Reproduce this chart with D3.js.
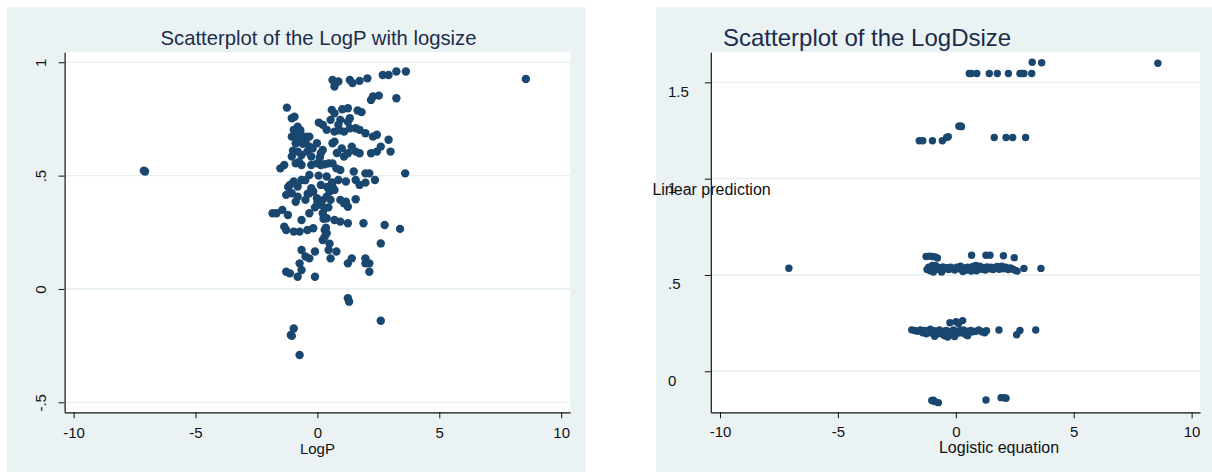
<!DOCTYPE html>
<html>
<head>
<meta charset="utf-8">
<script src="https://cdn.jsdelivr.net/npm/d3@7"></script>
<style>
  html, body { margin: 0; padding: 0; background: #ffffff; }
  svg { display: block; }
  text { font-family: "Liberation Sans", Arial, sans-serif; }
</style>
</head>
<body>
<svg id="chart" width="1212" height="472"></svg>
<script>
// ---- data ---------------------------------------------------------------

// Panel 1: LogP (x) against logsize (y)
const logPvsLogsize = [
  [0.62,0.922],[0.86,0.915],[0.70,0.893],[1.33,0.922],[1.44,0.908],[1.73,0.918],[2.05,0.929],
  [2.68,0.944],[2.92,0.944],[3.24,0.959],[3.63,0.959],[8.55,0.926],
  [2.20,0.834],[2.28,0.849],[2.52,0.853],[3.24,0.841],
  [-1.25,0.800],[0.59,0.790],[0.70,0.775],[1.02,0.793],[1.25,0.797],[1.65,0.787],[1.81,0.780],
  [-1.05,0.753],[-0.94,0.760],[0.06,0.734],[0.22,0.724],[0.54,0.746],[0.94,0.746],[1.33,0.753],[1.25,0.738],
  [-0.81,0.716],[-0.97,0.702],[-0.73,0.687],[-1.05,0.672],[-0.89,0.680],[-0.49,0.672],[-0.33,0.672],
  [0.38,0.702],[0.70,0.694],[0.86,0.724],[1.09,0.694],[1.33,0.709],[1.57,0.709],[1.73,0.702],
  [1.97,0.687],[2.28,0.672],[2.44,0.680],[2.92,0.658],
  [-0.89,0.643],[-0.49,0.650],[-0.33,0.628],[-0.02,0.643],[0.62,0.643],[0.70,0.650],[1.41,0.628],[2.60,0.628],
  [-1.05,0.584],[-0.81,0.606],[-0.65,0.591],[-0.41,0.606],[-0.25,0.584],[0.14,0.599],[0.22,0.613],
  [1.09,0.584],[1.25,0.599],[1.57,0.606],[1.73,0.599],[2.20,0.599],[2.44,0.606],[3.00,0.606],
  [-1.52,0.532],[-1.36,0.547],[-0.89,0.554],[-0.65,0.547],[-0.25,0.547],[-0.02,0.554],[0.14,0.547],
  [0.46,0.554],[0.62,0.554],[0.78,0.532],[0.94,0.525],[1.49,0.518],[1.97,0.510],[2.13,0.510],
  [3.60,0.510],[-7.07,0.518],[-7.12,0.522],
  [-0.97,0.474],[-0.65,0.481],[-0.33,0.503],[0.38,0.496],[0.86,0.481],[1.17,0.474],[1.57,0.481],
  [1.97,0.469],[2.36,0.481],
  [-1.13,0.459],[-0.81,0.452],[-0.25,0.444],[0.14,0.459],[0.62,0.452],[0.70,0.437],[1.73,0.459],
  [-1.28,0.415],[-1.05,0.422],[-0.81,0.407],[-0.33,0.422],[-0.17,0.430],[-0.02,0.400],[0.38,0.407],
  [0.54,0.393],[0.94,0.393],[1.17,0.385],[1.57,0.396],
  [-0.89,0.385],[-0.49,0.393],[0.14,0.371],[0.30,0.356],[1.09,0.378],[1.25,0.363],
  [-1.84,0.334],[-1.68,0.334],[-1.44,0.349],[-1.21,0.326],[-0.33,0.334],[0.22,0.334],[0.38,0.312],
  [0.70,0.304],[0.94,0.297],[1.25,0.290],[1.89,0.290],[2.76,0.282],[3.39,0.265],
  [-0.65,0.304],[-1.36,0.275],[-1.28,0.260],[-0.97,0.253],[-0.73,0.253],[-0.41,0.260],[-0.17,0.268],
  [0.30,0.260],[0.38,0.246],
  [0.22,0.216],[-0.65,0.172],[-0.10,0.165],[0.46,0.172],[0.78,0.165],[2.60,0.201],
  [-0.49,0.143],[-0.33,0.135],[0.54,0.135],[1.41,0.135],[1.97,0.135],
  [-0.73,0.113],[1.25,0.113],[1.97,0.113],[2.13,0.113],
  [-1.28,0.076],[-1.13,0.069],[-0.65,0.084],[-0.81,0.054],[-0.10,0.054],[2.13,0.076],
  [1.25,-0.041],[1.30,-0.056],[2.60,-0.140],[-0.97,-0.174],[-1.09,-0.203],[-1.05,-0.207],[-0.73,-0.291],
  [-0.80,0.660],[-0.60,0.640],[-0.20,0.620],[0.10,0.580],[0.30,0.550],[0.50,0.430],[0.40,0.450],
  [0.20,0.390],[0.00,0.380],[-0.10,0.360],[0.25,0.310],[-0.50,0.480],[-1.20,0.450],[0.80,0.600],
  [1.00,0.620],[0.90,0.700],[-0.70,0.700],[0.35,0.270],[0.30,0.230],[0.50,0.200],
  [-1.00,0.610],[-0.75,0.560],[0.05,0.500],[0.45,0.360],[-0.40,0.420],[0.60,0.470]
];

// Panel 2: logistic equation (x) against linear prediction (y)
const logisticVsPrediction = [
  [3.24,1.604],[3.64,1.602],[8.57,1.599],
  [0.57,1.546],[0.66,1.546],[0.89,1.546],[1.42,1.546],[1.76,1.546],[2.23,1.546],
  [2.72,1.546],[2.80,1.546],[2.89,1.546],[3.22,1.546],
  [-1.55,1.197],[-1.40,1.197],[-0.99,1.197],[-0.57,1.197],[-0.39,1.214],[-0.32,1.218],
  [0.13,1.272],[0.20,1.273],[0.24,1.270],[1.63,1.214],[2.13,1.214],[2.41,1.214],[2.96,1.214],
  [-1.26,0.596],[-1.12,0.598],[-1.00,0.596],[-0.88,0.594],[-0.78,0.588],[0.67,0.602],
  [1.28,0.602],[1.45,0.602],[2.02,0.600],[2.48,0.590],
  [-1.22,0.528],[-1.15,0.540],[-1.08,0.522],[-1.02,0.545],[-0.95,0.515],[-0.92,0.535],
  [-0.85,0.548],[-0.78,0.530],[-0.70,0.538],[-0.62,0.526],[-0.55,0.542],[-0.46,0.532],
  [-0.38,0.538],[-0.30,0.528],[-0.22,0.540],[-0.12,0.534],[-0.05,0.526],[0.04,0.540],
  [0.12,0.532],[0.20,0.545],[0.28,0.528],[0.35,0.536],[0.42,0.524],[0.50,0.540],
  [0.58,0.532],[0.65,0.520],[0.72,0.544],[0.80,0.530],[0.88,0.522],[0.95,0.538],
  [1.02,0.546],[1.10,0.530],[1.18,0.538],[1.25,0.526],[1.33,0.542],[1.42,0.532],
  [1.50,0.540],[1.58,0.528],[1.66,0.536],[1.75,0.544],[1.84,0.530],[1.92,0.538],
  [2.02,0.532],[2.12,0.540],[2.22,0.528],[2.32,0.536],[2.42,0.530],[2.52,0.524],
  [2.60,0.520],[2.89,0.534],[3.61,0.534],[-7.08,0.535],
  [-0.98,0.550],[0.30,0.518],[0.85,0.550],[-0.60,0.515],[1.95,0.546],
  [-1.87,0.215],[-1.75,0.212],[-1.62,0.208],[-1.50,0.215],[-1.40,0.200],[-1.32,0.212],
  [-1.25,0.195],[-1.15,0.208],[-1.08,0.218],[-1.00,0.198],[-0.92,0.210],[-0.85,0.190],
  [-0.78,0.205],[-0.70,0.215],[-0.62,0.195],[-0.55,0.208],[-0.48,0.185],[-0.40,0.212],
  [-0.32,0.198],[-0.25,0.188],[-0.18,0.205],[-0.10,0.215],[-0.05,0.180],[0.02,0.208],
  [0.10,0.198],[0.18,0.212],[0.25,0.200],[0.32,0.215],[0.40,0.192],[0.48,0.208],
  [0.56,0.200],[0.64,0.212],[0.72,0.205],[0.85,0.208],[0.98,0.215],[1.10,0.205],
  [1.22,0.200],[1.30,0.210],[1.83,0.214],[2.58,0.190],[2.72,0.212],[3.39,0.214],
  [-0.25,0.252],[0.01,0.257],[0.29,0.263],[0.12,0.248],[-0.90,0.182],[-0.35,0.178],[0.50,0.185],
  [-1.02,-0.152],[-0.95,-0.150],[-0.90,-0.157],[-0.74,-0.163],[1.28,-0.149],
  [1.92,-0.137],[2.05,-0.137],[2.13,-0.140]
];

// axis ticks and their printed labels
const xTicks = [-10, -5, 0, 5, 10];
const xTickLabels = ["-10", "-5", "0", "5", "10"];
const leftYTicks = [-0.5, 0, 0.5, 1];
const leftYTickLabels = ["-.5", "0", ".5", "1"];
const rightYTicks = [0, 0.5, 1, 1.5];
const rightYTickLabels = ["0", ".5", "1", "1.5"];

// titles
const leftTitle = "Scatterplot of the LogP with logsize";
const rightTitle = "Scatterplot of the LogDsize";
const leftXTitle = "LogP";
const rightXTitle = "Logistic equation";
const rightYTitle = "Linear prediction";

// ---- styling -------------------------------------------------------------
const BG = "#eaf2f3";
const GRID = "#e6eff1";
const MARK = "#1a476f";
const TITLE = "#1c2c4c";

const svg = d3.select("#chart");

function fmt(ticks, labels) {
  return v => labels[ticks.indexOf(v)];
}

function panel(opt) {
  const g = svg.append("g");

  // outer graph region
  g.append("rect")
    .attr("x", opt.bg[0]).attr("y", opt.bg[1])
    .attr("width", opt.bg[2]).attr("height", opt.bg[3])
    .attr("fill", BG);

  const x = d3.scaleLinear().domain(opt.xDomain).range([opt.plot.left, opt.plot.right]);
  const y = d3.scaleLinear().domain(opt.yDomain).range([opt.plot.bottom, opt.plot.top]);

  // plot region
  g.append("rect")
    .attr("x", opt.plot.left).attr("y", opt.plot.top)
    .attr("width", opt.plot.right - opt.plot.left)
    .attr("height", opt.plot.bottom - opt.plot.top)
    .attr("fill", "#ffffff");

  // horizontal grid
  g.append("g").selectAll("line").data(opt.yTicks).join("line")
    .attr("x1", opt.plot.left).attr("x2", opt.plot.right)
    .attr("y1", d => y(d)).attr("y2", d => y(d))
    .attr("stroke", GRID).attr("stroke-width", 1.4);

  // points
  g.append("g").selectAll("circle").data(opt.data).join("circle")
    .attr("cx", d => x(d[0])).attr("cy", d => y(d[1]))
    .attr("r", opt.r)
    .attr("fill", MARK);

  // x axis
  const xa = g.append("g")
    .attr("transform", `translate(0,${opt.plot.bottom})`)
    .call(d3.axisBottom(x).tickValues(xTicks).tickFormat(fmt(xTicks, xTickLabels))
      .tickSize(6).tickSizeOuter(0));
  xa.select(".domain").attr("stroke", "#111").attr("stroke-width", 1.2);
  xa.selectAll(".tick line").attr("stroke", "#111").attr("stroke-width", 1);
  xa.selectAll(".tick text")
    .attr("font-family", "Liberation Sans, Arial, sans-serif")
    .attr("font-size", 15).attr("fill", "#111")
    .attr("y", opt.xLabelDy).attr("dy", 0);

  // y axis
  const ya = g.append("g")
    .attr("transform", `translate(${opt.plot.left},0)`)
    .call(d3.axisLeft(y).tickValues(opt.yTicks).tickFormat(fmt(opt.yTicks, opt.yTickLabels))
      .tickSize(6).tickSizeOuter(0));
  ya.select(".domain").attr("stroke", "#111").attr("stroke-width", 1.2);
  ya.selectAll(".tick line").attr("stroke", "#111").attr("stroke-width", 1);
  const yt = ya.selectAll(".tick text")
    .attr("font-family", "Liberation Sans, Arial, sans-serif")
    .attr("font-size", 15).attr("fill", "#111");
  opt.styleYLabels(yt);

  // titles
  const t = g.append("text")
    .attr("x", opt.title.x).attr("y", opt.title.y)
    .attr("text-anchor", opt.title.anchor)
    .attr("font-size", opt.title.size)
    .attr("fill", TITLE)
    .text(opt.title.text);
  if (opt.title.length) t.attr("textLength", opt.title.length).attr("lengthAdjust", "spacingAndGlyphs");

  g.append("text")
    .attr("x", opt.xTitle.x).attr("y", opt.xTitle.y)
    .attr("text-anchor", "middle")
    .attr("font-size", opt.xTitle.size).attr("fill", "#111")
    .text(opt.xTitle.text);

  return g;
}

// left panel
panel({
  bg: [7, 7, 578.6, 465],
  plot: { left: 64.6, right: 570.2, top: 52.3, bottom: 412.3 },
  xDomain: [-10.37, 10.37],
  yDomain: [-0.544, 1.044],
  yTicks: leftYTicks,
  yTickLabels: leftYTickLabels,
  data: logPvsLogsize,
  r: 4.2,
  xLabelDy: 26,
  styleYLabels: sel => sel
    .attr("text-anchor", "middle")
    .attr("x", 0).attr("dy", 0)
    .attr("transform", "translate(-18.6,0) rotate(-90)"),
  title: { text: leftTitle, x: 318.5, y: 45, anchor: "middle", size: 21, length: 316 },
  xTitle: { text: leftXTitle, x: 317.4, y: 454, size: 15 }
});

// right panel
panel({
  bg: [655.9, 7, 556.1, 465],
  plot: { left: 710.8, right: 1200.1, top: 52.3, bottom: 412.3 },
  xDomain: [-10.39, 10.36],
  yDomain: [-0.213, 1.656],
  yTicks: rightYTicks,
  yTickLabels: rightYTickLabels,
  data: logisticVsPrediction,
  r: 3.7,
  xLabelDy: 25,
  styleYLabels: sel => sel
    .attr("text-anchor", "start")
    .attr("x", 668 - 710.8).attr("dy", 0)
    .attr("y", 14),
  title: { text: rightTitle, x: 723, y: 46, anchor: "start", size: 24 },
  xTitle: { text: rightXTitle, x: 999, y: 453, size: 16 }
});

// y-axis title of the right panel, drawn horizontally across the axis
svg.append("text")
  .attr("x", 652.4).attr("y", 195)
  .attr("font-size", 16).attr("fill", "#111")
  .text(rightYTitle);
</script>
</body>
</html>
